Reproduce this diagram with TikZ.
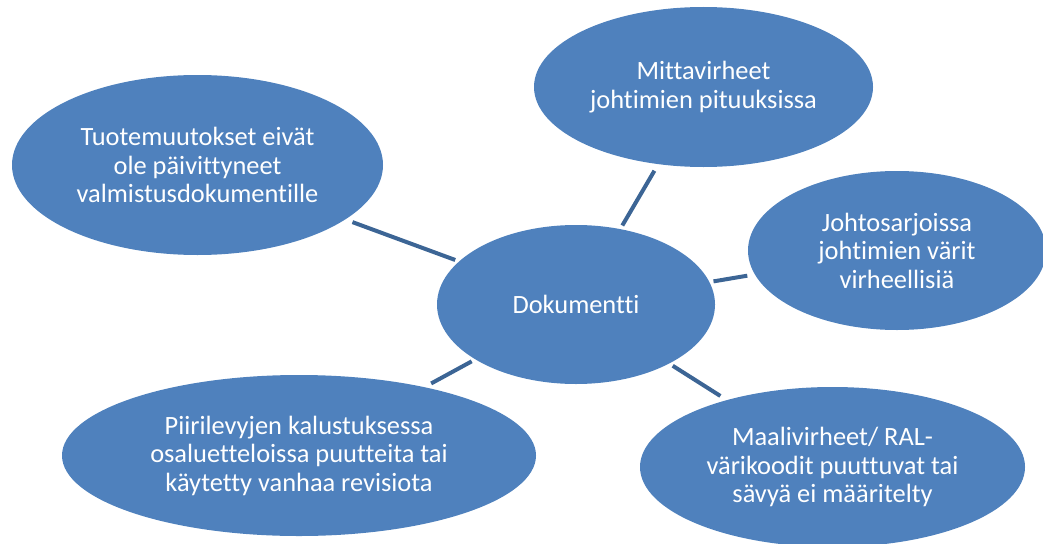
\documentclass[tikz,border=0pt]{standalone}
\usepackage{fontspec}
\setmainfont{Carlito}[Ligatures=NoCommon]
\usetikzlibrary{shapes.geometric}
\definecolor{bubblefill}{HTML}{4F81BD}
\definecolor{spoke}{HTML}{3C6595}

\begin{document}
\begin{tikzpicture}[x=1pt, y=-1pt,
      bubble/.style={ellipse, fill=bubblefill, text=white, inner sep=0pt, align=center,
        font=\fontsize{26.4}{28.5}\selectfont},
      link/.style={draw=spoke, line width=4pt, shorten <=7.5pt, shorten >=4pt}]
      \useasboundingbox (0,0) rectangle (1043,543);
      \clip (0,0) rectangle (1043,543);

      % Ellipses
      \node[bubble, minimum width=278pt, minimum height=159pt] (doc) at (576,304.5) {Dokumentti};
      \node[bubble, minimum width=371pt, minimum height=180pt] (tuote) at (197.5,165) {Tuotemuutokset eivät\\ole päivittyneet\\valmistusdokumentille};
      \node[bubble, minimum width=339pt, minimum height=160pt] (mitta) at (703.5,87) {Mittavirheet\\johtimien pituuksissa};
      \node[bubble, minimum width=298pt, minimum height=159pt] (johto) at (897,250.5) {Johtosarjoissa\\johtimien värit\\virheellisiä};
      \node[bubble, minimum width=474pt, minimum height=161pt] (piiri) at (299,455.5) {Piirilevyjen kalustuksessa\\osaluetteloissa puutteita tai\\käytetty vanhaa revisiota};
      \node[bubble, minimum width=385pt, minimum height=160pt] (maali) at (832.5,467) {Maalivirheet/ RAL-\\värikoodit puuttuvat tai\\sävyä ei määritelty};

      % Spokes
      \foreach \outer in {tuote, mitta, johto, piiri, maali} {
        \draw[link] (\outer) -- (doc);
      }
    \end{tikzpicture}
\end{document}
